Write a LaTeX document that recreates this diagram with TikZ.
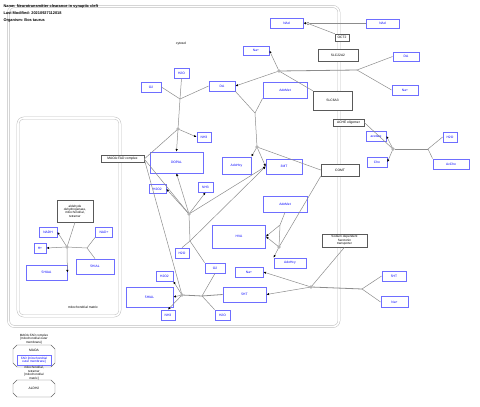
\documentclass[tikz,border=0pt]{standalone}
\usepackage{fontspec}
\setmainfont{Liberation Sans}
\usetikzlibrary{arrows.meta, positioning}

\definecolor{metab}{RGB}{110,110,255}
\definecolor{wire}{RGB}{140,140,140}

\begin{document}
\begin{tikzpicture}[x=1pt, y=-1pt, font=\fontsize{3.3}{3.8}\selectfont,
    sz/.style n args={2}{minimum width=#1pt, minimum height=#2pt},
    met/.style={draw=metab, line width=0.8pt, text=blue, fill=white, inner sep=0pt, align=center},
    gp/.style={draw=black!65, line width=0.5pt, fill=white, inner sep=0pt, align=center},
    wire/.style={draw=wire, line width=0.5pt},
    conv/.style={wire, -{Latex[length=2.6pt, width=2.4pt, color=black]}},
    anc/.style={circle, draw=black!60, fill=white, inner sep=0pt, minimum size=2.6pt},
    comp/.style={draw=black!25, line width=0.5pt, double distance=1.6pt, rounded corners=6pt},
    head/.style={anchor=west, font=\fontsize{3.9}{4.4}\selectfont\bfseries}]
    \useasboundingbox (0,0) rectangle (480,407);
    % compartments
    \draw[comp] (8.5,6.5) rectangle (339,326.5);
    \draw[comp] (18,118) rectangle (120,316);
    \node at (181,44) {cytosol};
    \node at (83,307) {mitochondrial matrix};
    % header
    \node[head] at (0,6) {Name: Neurotransmitter clearance in synaptic cleft};
    \node[head] at (0,13) {Last Modified: 20210927112018};
    \node[head] at (0,20) {Organism: Bos taurus};
    % gene products
    \node[gp, sz={40}{12}] (slc22a2) at (338,55) {SLC22A2};
    \node[gp, sz={14}{7}] (oct2) at (342,37.5) {OCT2};
    \node[gp, sz={39}{19}] (slc6a3) at (332.5,100.5) {SLC6A3};
    \node[gp, sz={43}{7}] (maoa) at (122.5,159) {MAOA:FAD complex};
    \node[gp, sz={38}{12}] (comt) at (340,170) {COMT};
    \node[gp, sz={31}{7}] (ache) at (348.5,122.5) {ACHE oligomer};
    \node[gp, sz={45}{13}, font=\fontsize{3.1}{3.4}\selectfont] (sert) at (344.5,240.5) {Sodium dependent\\Serotonin\\transporter};
    \node[gp, sz={36}{22}, font=\fontsize{3.1}{3.4}\selectfont] (aldh) at (75,211) {aldehyde\\dehydrogenase,\\mitochondrial,\\tetramer};
    % metabolites
    \node[met, sz={33}{10}] (nadcyt) at (286.5,23) {NAd};
    \node[met, sz={33}{9}] (nadsyn) at (382.5,23.5) {NAd};
    \node[met, sz={26}{9}] (dasyn) at (406,56.5) {DA};
    \node[met, sz={26}{10}] (nasyn) at (405,90) {Na+};
    \node[met, sz={26}{9}] (nacyt) at (256,50.5) {Na+};
    \node[met, sz={26}{10}] (dacyt) at (222,86) {DA};
    \node[met, sz={15}{10}] (waterA) at (181.5,73) {H2O};
    \node[met, sz={20}{10}] (oxyA) at (151,87) {O2};
    \node[met, sz={44}{16}] (adometA) at (285,90) {AdoMet};
    \node[met, sz={14}{10}] (ammA) at (204,137) {NH3};
    \node[met, sz={53}{21}] (dopal) at (176.5,162.5) {DOPAL};
    \node[met, sz={29}{17}] (adohcyA) at (236.5,165.5) {AdoHcy};
    \node[met, sz={36}{15}] (mt3) at (284,166.5) {3MT};
    \node[met, sz={17}{9}] (peroxA) at (157.5,189) {H2O2};
    \node[met, sz={15}{10}] (ammB) at (205.5,187) {NH3};
    \node[met, sz={44}{16}] (adometB) at (285,204) {AdoMet};
    \node[met, sz={53}{23}] (hva) at (239,236.5) {HVA};
    \node[met, sz={32}{10}] (adohcyB) at (290,263) {AdoHcy};
    \node[met, sz={14}{10}] (waterB) at (182,253) {H2O};
    \node[met, sz={20}{10}] (oxyB) at (215,268) {O2};
    \node[met, sz={28}{10}] (naB) at (249,272) {Na+};
    \node[met, sz={43}{15}] (htcyt) at (244.5,294.5) {5HT};
    \node[met, sz={47}{20}] (hialcyt) at (149.5,297) {5HIAL};
    \node[met, sz={17}{10}] (peroxB) at (164.5,276) {H2O2};
    \node[met, sz={14}{10}] (ammC) at (168,315) {NH3};
    \node[met, sz={15}{10}] (waterC) at (222.5,315) {H2O};
    \node[met, sz={24}{10}] (htsyn) at (394,276) {5HT};
    \node[met, sz={27}{11}] (nasynB) at (394.5,302) {Na+};
    \node[met, sz={20}{10}] (acetate) at (376,136) {acetate};
    \node[met, sz={20}{10}] (cho) at (377,162) {Cho};
    \node[met, sz={14}{10}] (waterD) at (450,137) {H2O};
    \node[met, sz={36}{10}] (acho) at (451,164) {AcCho};
    \node[met, sz={18}{10}] (nadh) at (48,232) {NADH};
    \node[met, sz={17}{10}] (nadp) at (104,232) {NAD+};
    \node[met, sz={12}{10}] (hplus) at (40,248) {H+};
    \node[met, sz={41}{15}] (hiaa) at (46.5,272.5) {5HIAA};
    \node[met, sz={38}{15}] (hialmit) at (95,266.5) {5HIAL};
    % NAd uptake
    \node[anc] (aNAd) at (308,23.5) {};
    \draw[wire] (nadsyn.west) -- (aNAd);
    \draw[conv] (aNAd) -- (nadcyt.east);
    \draw[wire] (oct2.north west) -- (aNAd);
    % DA uptake
    \node[anc] (aDA) at (279,71) {};
    \coordinate (jDA) at (357,70);
    \draw[wire, line width=0.8pt] (jDA) -- (aDA);
    \draw[wire] (dasyn.west) -- (jDA) -- (nasyn.west);
    \draw[conv] (aDA) -- (nacyt.east);
    \draw[conv] (aDA) -- (dacyt.east);
    \draw[wire] (slc6a3.north west) -- (aDA);
    % MAOA on DA
    \coordinate (jMA) at (180,99);
    \node[anc] (aMA) at (178,129) {};
    \draw[wire] (oxyA.east) -- (jMA);
    \draw[wire] (waterA.south) -- (jMA);
    \draw[wire] (dacyt.west) -- (jMA) -- (aMA);
    \draw[conv] (aMA) -- (dopal.north);
    \draw[conv] (aMA) -- (ammA.west);
    \draw[wire] (maoa.east) -- (aMA);
    % COMT on DA
    \coordinate (jCA) at (255,113);
    \node[anc] (aCA) at (257,147) {};
    \draw[wire] (dacyt.south east) -- (jCA);
    \draw[wire] (adometA.south west) -- (jCA) -- (aCA);
    \draw[conv] (aCA) -- (adohcyA.north east);
    \draw[conv] (aCA) -- (mt3.west);
    \draw[wire] (comt.west) -- (aCA);
    % MAOA, second
    \coordinate (jMB) at (190,241);
    \node[anc] (aMB) at (189,214) {};
    \draw[wire] (waterB.north) -- (jMB) -- (oxyB.north west);
    \draw[wire] (jMB) -- (aMB);
    \draw[conv] (aMB) -- (peroxA.east);
    \draw[conv] (aMB) -- (dopal.south);
    \draw[conv] (aMB) -- (ammB.south);
    \draw[conv] (aMB) -- (mt3.west);
    \draw[conv] (jMB) -- (mt3.west);
    \draw[wire] (maoa.east) -- (aMB);
    % COMT, second
    \coordinate (jCB) at (280,225);
    \node[anc] (aCB) at (279,247) {};
    \draw[wire] (adometB.south) -- (jCB) -- (aCB);
    \draw[wire] (comt.south west) -- (aCB);
    \draw[conv] (jCB) -- (hva.east);
    \draw[conv] (aCB) -- (hva.east);
    \draw[conv] (aCB) -- (adohcyB.north west);
    % MAOA on 5HT
    \coordinate (jMC) at (202,296);
    \node[anc] (aMC) at (182,295) {};
    \draw[wire] (oxyB.south) -- (jMC) -- (waterC.north west);
    \draw[wire, line width=0.8pt] (htcyt.west) -- (jMC) -- (aMC);
    \draw[conv] (aMC) -- (hialcyt.east);
    \draw[conv] (aMC) -- (peroxB.south east);
    \draw[conv] (aMC) -- (ammC.north);
    \draw[wire] (maoa.east) -- (aMC);
    % serotonin uptake
    \coordinate (jSE) at (362,289);
    \node[anc] (aSE) at (311,287) {};
    \draw[wire, line width=0.8pt] (jSE) -- (aSE);
    \draw[wire] (htsyn.west) -- (jSE) -- (nasynB.west);
    \draw[conv] (aSE) -- (naB.east);
    \draw[conv] (aSE) -- (htcyt.east);
    \draw[wire] (sert.south) -- (aSE);
    % ACh hydrolysis
    \coordinate (jAC) at (428,149);
    \node[anc] (aAC) at (393,149) {};
    \draw[wire, line width=0.8pt] (jAC) -- (aAC);
    \draw[wire] (waterD.west) -- (jAC) -- (acho.north west);
    \draw[conv] (aAC) -- (acetate.east);
    \draw[conv] (aAC) -- (cho.east);
    \draw[wire] (ache.east) -- (aAC);
    % ALDH2 in the matrix
    \coordinate (jAL) at (87,248);
    \node[anc] (aAL) at (67,247) {};
    \draw[wire] (nadp.south west) -- (jAL);
    \draw[wire] (hialmit.north) -- (jAL) -- (aAL);
    \draw[conv] (aAL) -- (hplus.east);
    \draw[conv] (aAL) -- (nadh.east);
    \draw[conv] (aAL) -- (hiaa.east);
    \draw[wire] (aldh.south) -- (aAL);
    % complexes
    \node[font=\fontsize{3.1}{3.5}\selectfont, align=center] at (34,339) {MAOA:FAD complex\\{[}mitochondrial outer\\membrane{]}};
    \draw[black!60, fill=white] (17,345) -- (51,345) -- (55,349) -- (55,363) -- (51,367) -- (17,367) -- (13,363) -- (13,349) -- cycle;
    \node at (34,350) {MAOA};
    \node[met, sz={34}{10}, font=\fontsize{3.1}{3.4}\selectfont] (fad) at (34,360) {FAD [mitochondrial\\outer membrane]};
    \node[font=\fontsize{3.1}{3.5}\selectfont, align=center] at (34,373) {mitochondrial,\\tetramer\\{[}mitochondrial\\matrix{]}};
    \draw[black!60, fill=white] (17,380) -- (51,380) -- (55,384) -- (55,393) -- (51,397) -- (17,397) -- (13,393) -- (13,384) -- cycle;
    \node at (34,388) {ALDH2};
\end{tikzpicture}
\end{document}
